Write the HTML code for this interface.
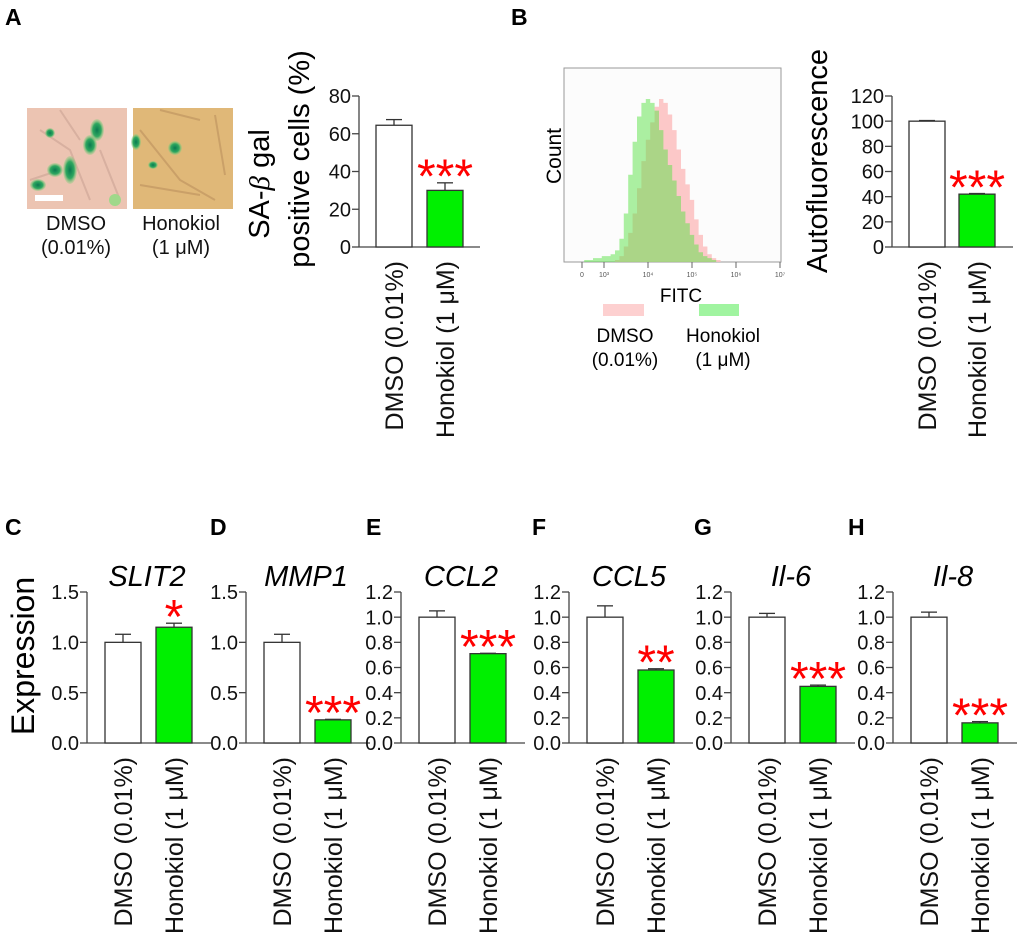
<!DOCTYPE html>
<html><head><meta charset="utf-8"><style>
html,body{margin:0;padding:0;background:#fff;}
svg{display:block;font-family:"Liberation Sans",Arial,sans-serif;}
</style></head><body>
<svg id="fig" width="1020" height="948" viewBox="0 0 1020 948" xmlns="http://www.w3.org/2000/svg">
<defs>
<radialGradient id="cellG" cx="50%" cy="50%" r="50%"><stop offset="0" stop-color="#0a7a50"/><stop offset="0.6" stop-color="#2fa860"/><stop offset="1" stop-color="#8fd080" stop-opacity="0.3"/></radialGradient>
</defs>
<g font-weight="bold" font-size="23">
<text x="5" y="25">A</text>
<text x="511" y="25">B</text>
<text x="5" y="535">C</text>
<text x="210" y="535">D</text>
<text x="366" y="535">E</text>
<text x="532" y="535">F</text>
<text x="694" y="535">G</text>
<text x="848" y="535">H</text>
</g>
<g>
<rect x="27" y="108" width="100" height="101" fill="#ecc4b2"/>
<path d="M40 130 L70 150 L90 200 M60 110 L80 140 M100 150 L120 200 M30 180 L60 170" stroke="#d8b0a0" stroke-width="2" fill="none"/>
<ellipse cx="97" cy="130" rx="7" ry="11" fill="url(#cellG)"/>
<ellipse cx="90" cy="145" rx="7" ry="10" fill="url(#cellG)"/>
<ellipse cx="70" cy="170" rx="7" ry="14" fill="url(#cellG)"/>
<ellipse cx="55" cy="170" rx="8" ry="7" fill="url(#cellG)"/>
<ellipse cx="38" cy="185" rx="8" ry="6" fill="url(#cellG)"/>
<ellipse cx="50" cy="133" rx="5" ry="5" fill="url(#cellG)"/>
<ellipse cx="115" cy="200" rx="6" ry="6" fill="#9fd88a"/>
<rect x="35" y="195" width="28" height="6" fill="#fff"/>
</g>
<g>
<rect x="133" y="108" width="100" height="101" fill="#e0b878"/>
<path d="M140 130 L180 180 L215 200 M160 110 L200 120 M215 115 L225 175 M140 185 L200 195" stroke="#caa068" stroke-width="2" fill="none"/>
<ellipse cx="175" cy="148" rx="7" ry="7" fill="url(#cellG)"/>
<ellipse cx="136" cy="142" rx="5" ry="8" fill="url(#cellG)"/>
<ellipse cx="153" cy="165" rx="5" ry="4" fill="url(#cellG)"/>
</g>
<g font-size="20" text-anchor="middle" fill="#111">
<text x="76" y="230">DMSO</text><text x="76" y="254">(0.01%)</text>
<text x="181" y="230">Honokiol</text><text x="181" y="254">(1 μM)</text>
</g>
<g font-size="29" text-anchor="middle">
<text transform="translate(269,184) rotate(-90)">SA-<tspan font-family="Liberation Serif" font-style="italic">β</tspan> gal</text>
<text transform="translate(309,159) rotate(-90)">positive cells (%)</text>
</g>
<text font-size="29" text-anchor="middle" transform="translate(827,161) rotate(-90)">Autofluorescence</text>
<text font-size="32" text-anchor="middle" transform="translate(34,656) rotate(-90)">Expression</text>
<g>
<rect x="564" y="68" width="217" height="194" fill="#fcfcfc" stroke="#999" stroke-width="1"/>
<g id="hist"></g>
<text font-size="21" text-anchor="middle" transform="translate(561,156) rotate(-90)">Count</text>
<text x="681" y="302" font-size="19" text-anchor="middle">FITC</text>
<rect x="603" y="304" width="41" height="12" fill="#fdd0d0"/>
<rect x="699" y="304" width="40" height="12" fill="#a0f4a0"/>
<g font-size="19" text-anchor="middle">
<text x="625" y="342">DMSO</text><text x="625" y="366">(0.01%)</text>
<text x="723" y="342">Honokiol</text><text x="723" y="366">(1 μM)</text>
</g>
</g>
<g id="charts"></g>
<script>
// Panel A data
const aCats = ["DMSO (0.01%)", "Honokiol (1 μM)"];
const aVals = [64.5, 30];
const aErr = [3, 4];
const aTicks = [0, 20, 40, 60, 80];
// Panel B data
const bVals = [100, 42];
const bErr = [0.5, 0.5];
const bTicks = [0, 20, 40, 60, 80, 100, 120];
// Expression panels
const geneNames = ["SLIT2", "MMP1", "CCL2", "CCL5", "Il-6", "Il-8"];
const geneDmso = [1.0, 1.0, 1.0, 1.0, 1.0, 1.0];
const geneDmsoErr = [0.08, 0.08, 0.05, 0.09, 0.03, 0.04];
const geneHono = [1.15, 0.23, 0.71, 0.58, 0.45, 0.16];
const geneHonoErr = [0.04, 0.005, 0.003, 0.01, 0.01, 0.01];
const geneStars = ["*", "***", "***", "**", "***", "***"];
const geneMax = [1.5, 1.5, 1.2, 1.2, 1.2, 1.2];
const ticks15 = ["0.0", "0.5", "1.0", "1.5"];
const ticks12 = ["0.0", "0.2", "0.4", "0.6", "0.8", "1.0", "1.2"];
// Histogram (log10 FITC bins, counts as % of axis height)
const histBins = [2.6,2.7,2.8,2.9,3.0,3.1,3.2,3.3,3.4,3.5,3.6,3.7,3.8,3.9,4.0,4.1,4.2,4.3,4.4,4.5,4.6,4.7,4.8,4.9,5.0,5.1,5.2,5.3,5.4,5.5,5.6,5.7,5.8];
const histDmso = [0,0,0,0,0,0,0,1,3,8,15,25,38,52,63,72,80,84,82,76,68,58,48,40,32,22,14,8,4,2,1,0,0];
const histHono = [1,1,2,2,3,3,4,6,12,25,45,62,75,82,84,82,78,68,58,50,42,34,26,20,14,9,5,3,2,1,0,0,0];
const histTickLabels = ["0", "10³", "10⁴", "10⁵", "10⁶", "10⁷"];
const histTickVals = [2.5, 3, 4, 5, 6, 7];

const NS = "http://www.w3.org/2000/svg";
function mk(tag, attrs, parent) {
  const e = document.createElementNS(NS, tag);
  for (const k in attrs) e.setAttribute(k, attrs[k]);
  parent.appendChild(e);
  return e;
}
const root = document.getElementById("charts");

function barChart(o) {
  const g = mk("g", {}, root);
  
  
  const y = v => o.y0 - (v / o.max) * (o.y0 - o.yTop);
  mk("line", {x1: o.ax, y1: o.yTop, x2: o.ax, y2: o.y0, stroke: "#444", "stroke-width": 1.3}, g);
  mk("line", {x1: o.ax, y1: o.y0, x2: o.ax + o.baseLen, y2: o.y0, stroke: "#444", "stroke-width": 1.3}, g);
  o.ticks.forEach(t => {
    const v = parseFloat(t);
    mk("line", {x1: o.ax - 7, y1: y(v), x2: o.ax, y2: y(v), stroke: "#444", "stroke-width": 1.3}, g);
    const tx = mk("text", {x: o.ax - 8, y: y(v) + o.tf * 0.36, "font-size": o.tf, "text-anchor": "end", fill: "#111"}, g);
    tx.textContent = t;
    
    
  });
  const fills = ["#ffffff", "#00f000"];
  o.vals.forEach((v, i) => {
    const bx = o.ax + o.off[i];
    const top = y(v);
    const et = y(v + o.err[i]);
    const r = mk("rect", {x: bx, y: top, width: 36, height: o.y0 - top, fill: fills[i], stroke: "#333", "stroke-width": 1.3}, g);
    
    
    const cx = bx + 18;
    mk("line", {x1: cx, y1: top, x2: cx, y2: et, stroke: "#333", "stroke-width": 1.3}, g);
    mk("line", {x1: cx - 8, y1: et, x2: cx + 8, y2: et, stroke: "#333", "stroke-width": 1.3}, g);
    const lbl = mk("text", {"font-size": 25, "text-anchor": "end", fill: "#111", transform: `translate(${cx + 9},${o.y0 + 14}) rotate(-90)`}, g);
    lbl.textContent = aCats[i];
    
    
    if (i === 1 && o.stars) {
      const s = mk("text", {x: cx, y: et - 18 + 48 * 0.58, "font-size": 48, "text-anchor": "middle", fill: "#ff0000"}, g);
      s.textContent = o.stars;
      
      
    }
  });
  if (o.title) {
    const t = mk("text", {x: o.ax + 60, y: 586, "font-size": 29, "font-style": "italic", "text-anchor": "middle"}, g);
    t.textContent = o.title;
    
    
  }
}

barChart({name: "chart-sa-beta-gal", ax: 359, yTop: 96, y0: 247, max: 80, ticks: aTicks.map(String), tf: 20, vals: aVals, err: aErr, off: [17, 68], baseLen: 121, stars: "***"});
barChart({name: "chart-autofluorescence", ax: 892, yTop: 96, y0: 247, max: 120, ticks: bTicks.map(String), tf: 20, vals: bVals, err: bErr, off: [17, 67], baseLen: 121, stars: "***"});
const axesX = [87, 246, 401, 569, 731, 893];
geneNames.forEach((n, i) => {
  barChart({name: "chart-" + n.toLowerCase(), ax: axesX[i], yTop: 592, y0: 743, max: geneMax[i], ticks: geneMax[i] === 1.5 ? ticks15 : ticks12, tf: 20,
    vals: [geneDmso[i], geneHono[i]], err: [geneDmsoErr[i], geneHonoErr[i]], off: [18, 69], baseLen: 124, stars: geneStars[i], title: n});
});

// histogram
const hg = document.getElementById("hist");
const hx = b => 604 + (b - 3) * 44;
const hy = c => 262 - c / 100 * 194;
function histPath(vals, fill, name) {
  let d = `M${hx(histBins[0]) - 2.2} 262`;
  vals.forEach((c, i) => {
    const x = hx(histBins[i]);
    d += ` L${x - 2.2} ${hy(c)} L${x + 2.2} ${hy(c)}`;
  });
  d += ` L${hx(histBins[histBins.length - 1]) + 2.2} 262 Z`;
  const p = mk("path", {d: d, fill: fill}, hg);
  
  
}
histPath(histDmso, "rgba(252,190,190,0.85)", "histogram-dmso");
histPath(histHono, "rgba(90,225,70,0.5)", "histogram-honokiol");
histTickVals.forEach((v, i) => {
  mk("line", {x1: hx(v), y1: 262, x2: hx(v), y2: 268, stroke: "#666", "stroke-width": 1}, hg);
  const t = mk("text", {x: hx(v), y: 277, "font-size": 7, "text-anchor": "middle", fill: "#555"}, hg);
  t.textContent = histTickLabels[i];
  
  
});
</script>
</svg>
</body></html>
